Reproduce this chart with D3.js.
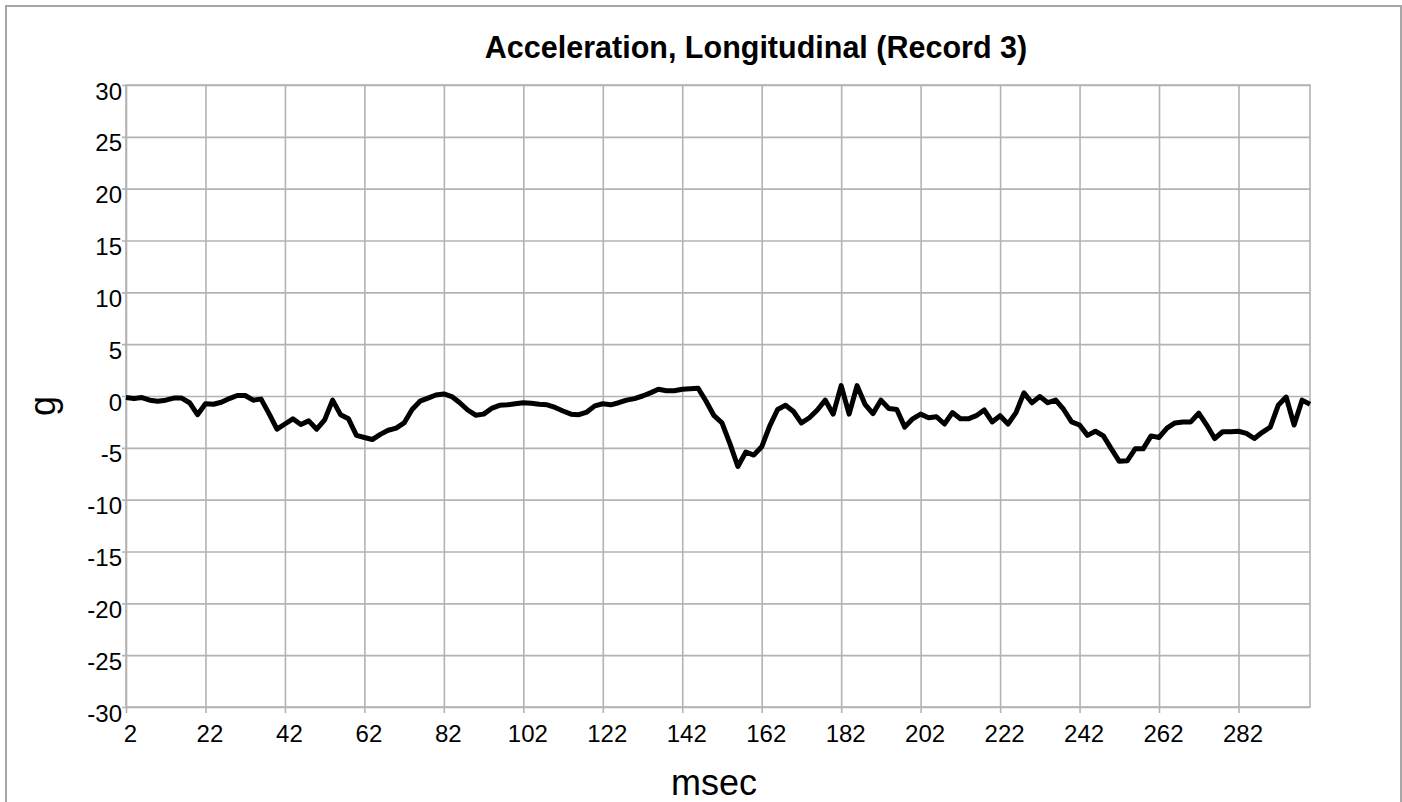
<!DOCTYPE html>
<html>
<head>
<meta charset="utf-8">
<script src="https://cdn.jsdelivr.net/npm/d3@7"></script>
<style>
  html, body { margin: 0; padding: 0; background: #fff; }
  svg { display: block; }
  text { font-family: "Liberation Sans", Arial, sans-serif; fill: #000; }
</style>
</head>
<body>
<svg id="chart" width="1402" height="802"></svg>
<script>
// Longitudinal acceleration samples, every 2 msec from 2 to 300
const msec = d3.range(2, 301, 2);
const accelG = [
  -0.15, -0.25, -0.15, -0.4, -0.5, -0.4, -0.2, -0.2, -0.65, -1.8,
  -0.75, -0.8, -0.6, -0.25, 0.05, 0.05, -0.4, -0.3, -1.7, -3.2,
  -2.7, -2.2, -2.75, -2.4, -3.2, -2.3, -0.4, -1.8, -2.2, -3.8,
  -4.0, -4.2, -3.7, -3.3, -3.1, -2.6, -1.3, -0.5, -0.2, 0.1,
  0.2, -0.05, -0.65, -1.35, -1.85, -1.75, -1.2, -0.9, -0.85, -0.75,
  -0.65, -0.7, -0.8, -0.85, -1.1, -1.45, -1.75, -1.8, -1.55, -0.95,
  -0.75, -0.85, -0.65, -0.4, -0.25, 0.0, 0.3, 0.65, 0.5, 0.5,
  0.65, 0.7, 0.75, -0.5, -1.9, -2.6, -4.6, -6.8, -5.4, -5.7,
  -4.9, -2.9, -1.3, -0.9, -1.5, -2.6, -2.1, -1.35, -0.4, -1.75,
  1.0, -1.75, 1.0, -0.8, -1.7, -0.4, -1.2, -1.3, -3.0, -2.2,
  -1.75, -2.1, -2.0, -2.7, -1.6, -2.2, -2.2, -1.9, -1.35, -2.5,
  -1.9, -2.7, -1.6, 0.3, -0.65, -0.05, -0.65, -0.4, -1.3, -2.5,
  -2.8, -3.8, -3.4, -3.85, -5.1, -6.3, -6.25, -5.1, -5.1, -3.85,
  -4.0, -3.1, -2.6, -2.5, -2.5, -1.65, -2.8, -4.1, -3.45, -3.45,
  -3.4, -3.6, -4.1, -3.5, -3.0, -0.9, -0.1, -2.8, -0.4, -0.8
];
const xTickLabels = d3.range(2, 283, 20);
const yTicks = d3.range(-30, 31, 5);

const chartTitle = "Acceleration, Longitudinal (Record 3)";
const xTitle = "msec";
const yTitle = "g";

const svg = d3.select("#chart");
const plot = { left: 126, right: 1310, top: 85, bottom: 707 };
const gridColor = "#b3b3b3";
// plain hyphen for negatives
const fmt = d => String(d);

// outer frame of the chart area
svg.append("rect")
  .attr("x", 6).attr("y", 6)
  .attr("width", 1395).attr("height", 810)
  .attr("fill", "none")
  .attr("stroke", "#a6a6a6")
  .attr("stroke-width", 2);

const x = d3.scaleLinear().domain([msec[0], msec[msec.length - 1]]).range([plot.left, plot.right]);
const y = d3.scaleLinear().domain([-30, 30]).range([plot.bottom, plot.top]);

// horizontal grid with short outer ticks on the left
const yAxis = d3.axisLeft(y).tickValues(yTicks)
  .tickSize(-(plot.right - plot.left)).tickSizeOuter(0).tickPadding(6)
  .tickFormat(fmt);
const gy = svg.append("g").attr("transform", `translate(${plot.left},0)`).call(yAxis);
gy.select(".domain").remove();
gy.selectAll(".tick line").attr("stroke", gridColor).attr("stroke-width", 1.6)
  .attr("x1", -4);
gy.selectAll(".tick text")
  .attr("font-size", 24).attr("dy", "14px").attr("x", -4);

// vertical grid with ticks below the plot
const xAxis = d3.axisBottom(x).tickValues(xTickLabels)
  .tickSize(-(plot.bottom - plot.top)).tickSizeOuter(0).tickPadding(0)
  .tickFormat(fmt);
const gx = svg.append("g").attr("transform", `translate(0,${plot.bottom})`).call(xAxis);
gx.select(".domain").remove();
gx.selectAll(".tick line").attr("stroke", gridColor).attr("stroke-width", 1.6)
  .attr("y1", 6);
gx.selectAll(".tick text")
  .attr("font-size", 24).attr("y", 35).attr("dy", 0).attr("x", 4);

// plot frame
svg.append("rect")
  .attr("x", plot.left).attr("y", plot.top)
  .attr("width", plot.right - plot.left).attr("height", plot.bottom - plot.top)
  .attr("fill", "none").attr("stroke", gridColor).attr("stroke-width", 1.6);

// data line
const line = d3.line().x((d, i) => x(msec[i])).y(d => y(d));
svg.append("path")
  .datum(accelG)
  .attr("d", line)
  .attr("fill", "none")
  .attr("stroke", "#000")
  .attr("stroke-width", 5)
  .attr("stroke-linejoin", "round");

// titles
svg.append("text")
  .attr("x", 756).attr("y", 58)
  .attr("text-anchor", "middle")
  .attr("font-size", 30.5).attr("font-weight", "bold")
  .text(chartTitle);

svg.append("text")
  .attr("x", 714).attr("y", 795)
  .attr("text-anchor", "middle")
  .attr("font-size", 36)
  .text(xTitle);

svg.append("text")
  .attr("transform", "translate(55,406) rotate(-90)")
  .attr("text-anchor", "middle")
  .attr("font-size", 36)
  .text(yTitle);
</script>
</body>
</html>
